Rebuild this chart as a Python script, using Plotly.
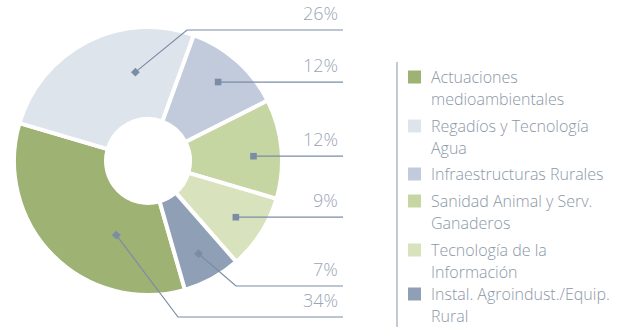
import math
import plotly.graph_objects as go

# ---- data -------------------------------------------------------------
categories = [
    "Actuaciones medioambientales",
    "Regadíos y Tecnología Agua",
    "Infraestructuras Rurales",
    "Sanidad Animal y Serv. Ganaderos",
    "Tecnología de la Información",
    "Instal. Agroindust./Equip. Rural",
]
legend_lines = [
    ["Actuaciones", "medioambientales"],
    ["Regadíos y Tecnología", "Agua"],
    ["Infraestructuras Rurales"],
    ["Sanidad Animal y Serv.", "Ganaderos"],
    ["Tecnología de la", "Información"],
    ["Instal. Agroindust./Equip.", "Rural"],
]
shares = [34, 26, 12, 12, 9, 7]
colors = ["#9eb273", "#dee4ec", "#c1cbdb", "#c6d6a2", "#d8e3bd", "#8f9fb6"]

# ---- layout constants (pixels) ---------------------------------------
W, H = 628, 327
CX, CY = 148, 161          # donut centre
R_VIS = 132                # visible outer radius
BORDER = 4                 # white gap between slices
R = R_VIS + BORDER / 2
HOLE_VIS = 44
ROTATION = 164             # first slice starts here, clockwise from 12 o'clock

# leader-line placement per slice
anchor_frac = [0.32, 0.70, 0.50, 0.56, 0.50, 0.50]   # position along slice arc
anchor_rad = [0.61, 0.68, 0.80, 0.80, 0.79, 0.80]    # fraction of outer radius
row_y = [317, 30, None, None, None, 286]             # label row (None = level with marker)
elbow_x = [178, 187, None, None, None, 236]
LINE_END_X = 343
PCT_RIGHT_X = 340

LEG_SQ_X = 408
LEG_SQ = 13
LEG_TEXT_X = 429
LEG_FS = 16
LEG_LINE = 21.6
legend_baselines = [83, 132, 180, 207, 256, 300]

TEXT_COL = "#8c97a7"
PCT_COL = "#9aa6b8"
LEADER_COL = "#7a8ca6"
FONT = "Open Sans"


def px(x):
    return x / W


def py(y):
    return 1 - y / H


fig = go.Figure()
fig.add_trace(go.Pie(
    labels=categories,
    values=shares,
    sort=False,
    direction="clockwise",
    rotation=ROTATION,
    hole=(HOLE_VIS - BORDER / 2) / R,
    marker=dict(colors=colors, line=dict(color="white", width=BORDER)),
    textinfo="none",
    hoverinfo="label+percent",
    showlegend=False,
    domain=dict(x=[px(CX - R), px(CX + R)], y=[py(CY + R), py(CY - R)]),
))

shapes = []
annotations = []

total = sum(shares)
start = ROTATION
for i, v in enumerate(shares):
    span = 360.0 * v / total
    theta = math.radians(start + anchor_frac[i] * span)
    start += span
    rr = anchor_rad[i] * R_VIS
    mx = CX + rr * math.sin(theta)
    my = CY - rr * math.cos(theta)

    if row_y[i] is None:
        ly = my
        path = f"M{px(mx)},{py(my)} L{px(LINE_END_X)},{py(my)}"
        d = 3.3
        marker = (f"M{px(mx-d)},{py(my-d)} L{px(mx+d)},{py(my-d)} "
                  f"L{px(mx+d)},{py(my+d)} L{px(mx-d)},{py(my+d)} Z")
    else:
        ly = row_y[i]
        path = (f"M{px(mx)},{py(my)} L{px(elbow_x[i])},{py(ly)} "
                f"L{px(LINE_END_X)},{py(ly)}")
        d = 4.4
        marker = (f"M{px(mx)},{py(my-d)} L{px(mx+d)},{py(my)} "
                  f"L{px(mx)},{py(my+d)} L{px(mx-d)},{py(my)} Z")

    shapes.append(dict(type="path", path=path, xref="paper", yref="paper",
                       line=dict(color=LEADER_COL, width=1.2), layer="above"))
    shapes.append(dict(type="path", path=marker, xref="paper", yref="paper",
                       fillcolor=LEADER_COL, line=dict(width=0), layer="above"))
    annotations.append(dict(
        x=px(PCT_RIGHT_X), y=py(ly - 3), xref="paper", yref="paper",
        xanchor="right", yanchor="bottom", showarrow=False,
        text=f"{v}%", font=dict(family=FONT, size=18, color=PCT_COL, weight=300),
    ))

# legend
for i, lines in enumerate(legend_lines):
    b = legend_baselines[i]
    sq_c = b - 6
    shapes.append(dict(type="rect", xref="paper", yref="paper",
                       x0=px(LEG_SQ_X), x1=px(LEG_SQ_X + LEG_SQ),
                       y0=py(sq_c - LEG_SQ / 2), y1=py(sq_c + LEG_SQ / 2),
                       fillcolor=colors[i], line=dict(width=0), layer="above"))
    for k, t in enumerate(lines):
        annotations.append(dict(
            x=px(LEG_TEXT_X), y=py(b + k * LEG_LINE - 0.36 * LEG_FS),
            xref="paper", yref="paper", xanchor="left", yanchor="middle",
            showarrow=False, text=t,
            font=dict(family=FONT, size=LEG_FS, color=TEXT_COL, weight=300),
        ))

# divider left of legend
shapes.append(dict(type="line", xref="paper", yref="paper",
                   x0=px(397), x1=px(397), y0=py(62), y1=py(H),
                   line=dict(color="#aeb8c6", width=1.5), layer="above"))

fig.update_layout(
    width=W, height=H, autosize=False,
    margin=dict(l=0, r=0, t=0, b=0),
    paper_bgcolor="white", plot_bgcolor="white",
    shapes=shapes, annotations=annotations,
)

fig.write_html("out.html")
